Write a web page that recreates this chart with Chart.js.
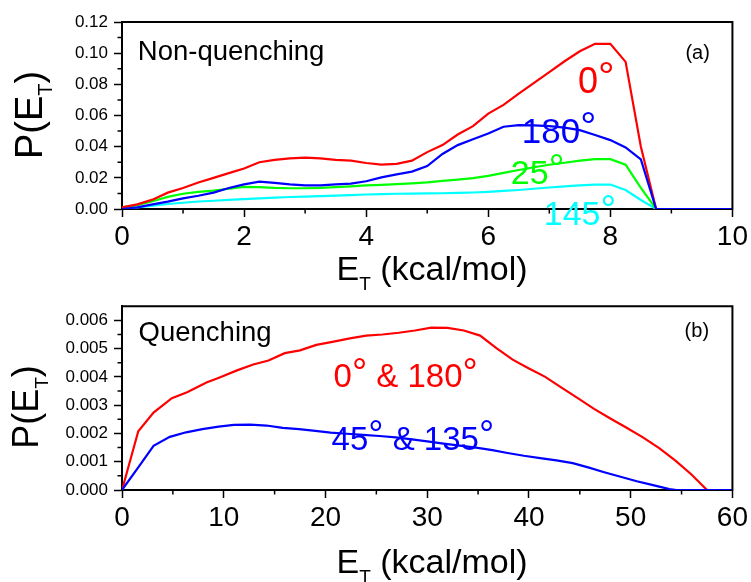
<!DOCTYPE html>
<html><head><meta charset="utf-8">
<script src="https://cdn.jsdelivr.net/npm/chart.js@4.4.1/dist/chart.umd.min.js"></script>
<style>
html,body{margin:0;padding:0;background:#fff;}
#wrap{position:relative;width:751px;height:582px;overflow:hidden;background:#fff;}
canvas{position:absolute;left:0;}
#ca{top:0;}
#cb{top:290px;}
</style></head><body>
<div id="wrap">
<canvas id="ca" width="751" height="300"></canvas>
<canvas id="cb" width="751" height="292"></canvas>
</div>
<script>
const FAM = '"Liberation Sans", Arial, Helvetica, sans-serif';

// ---------- Panel (a): Non-quenching ----------
const energyA = [0,0.25,0.5,0.75,1,1.25,1.5,1.75,2,2.25,2.5,2.75,3,3.25,3.5,3.75,4,4.25,4.5,4.75,5,5.25,5.5,5.75,6,6.25,6.5,6.75,7,7.25,7.5,7.75,8,8.25,8.5,8.75,10];
const p0deg   = [0.001,0.003,0.006,0.0105,0.0135,0.017,0.020,0.023,0.026,0.030,0.0315,0.0325,0.033,0.0325,0.0315,0.031,0.0295,0.0285,0.029,0.031,0.0365,0.041,0.0478,0.0532,0.0612,0.0668,0.074,0.081,0.0878,0.0948,0.1012,0.106,0.106,0.0944,0.040,0,0];
const p180deg = [0,0.001,0.003,0.0047,0.0068,0.0085,0.0105,0.0135,0.0158,0.0175,0.0168,0.0158,0.0152,0.0152,0.0158,0.0163,0.0178,0.0203,0.0222,0.024,0.0276,0.0353,0.041,0.0447,0.0485,0.0528,0.0538,0.0537,0.0532,0.0522,0.0506,0.0475,0.0442,0.0395,0.0318,0,0];
const p25deg  = [0.001,0.0025,0.005,0.0078,0.0098,0.011,0.0118,0.013,0.0142,0.014,0.0135,0.0133,0.0133,0.0135,0.014,0.0145,0.0152,0.0155,0.016,0.0165,0.0171,0.018,0.0188,0.0198,0.0213,0.0232,0.025,0.0268,0.0284,0.0297,0.031,0.032,0.032,0.0284,0.0135,0,0];
const p145deg = [0,0.001,0.0022,0.0032,0.004,0.0048,0.0053,0.0058,0.0063,0.0068,0.0073,0.0077,0.008,0.0083,0.0086,0.0089,0.0093,0.0096,0.0098,0.0099,0.0100,0.0101,0.0103,0.0106,0.011,0.0116,0.0122,0.013,0.0138,0.0145,0.0152,0.0157,0.0157,0.0122,0.0058,0,0];
const xTicksA = [0,2,4,6,8,10];
const xMinorA = [1,3,5,7,9];
const yTicksA = [0,0.02,0.04,0.06,0.08,0.10,0.12];
const yMinorA = [0.01,0.03,0.05,0.07,0.09,0.11];

// ---------- Panel (b): Quenching ----------
const energyRedB = [0,1.6,3.1,4.9,6.4,8.3,9.6,11.3,12.9,14.4,16.0,17.5,19.1,20.8,22.4,24.0,25.6,27.2,28.8,30.4,32.0,33.6,35.2,36.8,38.4,40.0,41.6,43.2,44.8,46.4,48.0,49.6,51.2,52.8,54.4,56.0,57.5,60];
const pRedB = [0,0.00208,0.00274,0.00325,0.00346,0.0038,0.00398,0.00423,0.00444,0.00458,0.00484,0.00494,0.00513,0.00525,0.00536,0.00546,0.0055,0.00556,0.00564,0.00574,0.00573,0.00564,0.00546,0.00502,0.00461,0.0043,0.004,0.00362,0.00325,0.00287,0.00253,0.0022,0.00186,0.00148,0.00104,0.00054,0,0];
const energyBlueB = [0,1.6,3.1,4.7,6.3,7.9,9.5,11.0,12.6,14.2,15.8,17.4,19.0,20.5,22.1,23.7,25.3,26.9,28.5,30.0,31.6,33.2,34.8,36.4,37.9,39.5,41.1,42.7,44.3,45.9,47.4,49.0,50.6,52.2,53.8,54.5,60];
const pBlueB = [0,0.0008,0.00156,0.00188,0.00204,0.00215,0.00224,0.0023,0.00231,0.00228,0.0022,0.00215,0.00209,0.00203,0.00199,0.00195,0.00191,0.00186,0.00179,0.00172,0.00164,0.00157,0.0015,0.00141,0.00131,0.00121,0.00113,0.00105,0.00095,0.00079,0.00063,0.00047,0.00031,0.00017,0.00003,0,0];
const xTicksB = [0,10,20,30,40,50,60];
const xMinorB = [5,15,25,35,45,55];
const yTicksB = [0,0.001,0.002,0.003,0.004,0.005,0.006];
const yMinorB = [0.0005,0.0015,0.0025,0.0035,0.0045,0.0055];

const RED = '#ff0000', BLUE = '#0000ff', GREEN = '#00ff00', CYAN = '#00ffff';

function pts(xs, ys){ return xs.map((x,i)=>({x:x, y:ys[i]})); }

function drawRuns(ctx, x, y, runs, color, align){
  let w = 0;
  const parts = runs.map(r => {
    ctx.font = r[1] + 'px ' + FAM;
    const mw = ctx.measureText(r[0]).width;
    w += mw;
    return {t:r[0], s:r[1], dy:r[2]||0, w:mw};
  });
  let cx = align === 'center' ? x - w/2 : x;
  ctx.fillStyle = color;
  ctx.textAlign = 'left';
  ctx.textBaseline = 'alphabetic';
  parts.forEach(p => { ctx.font = p.s + 'px ' + FAM; ctx.fillText(p.t, cx, y + p.dy); cx += p.w; });
}

const decor = {
  id: 'decor',
  afterDraw(chart, args, o){
    const ctx = chart.ctx, a = chart.chartArea, xs = chart.scales.x, ys = chart.scales.y;
    ctx.save();
    ctx.strokeStyle = '#000';
    ctx.lineWidth = 2;
    ctx.beginPath();
    ctx.moveTo(a.left, a.top); ctx.lineTo(a.right, a.top); ctx.lineTo(a.right, a.bottom + 1);
    ctx.stroke();
    ctx.lineWidth = 1.5;
    ctx.beginPath();
    o.xMinor.forEach(v => { const p = xs.getPixelForValue(v); ctx.moveTo(p, a.bottom); ctx.lineTo(p, a.bottom + 4.5); });
    o.yMinor.forEach(v => { const p = ys.getPixelForValue(v); ctx.moveTo(a.left, p); ctx.lineTo(a.left - 4.5, p); });
    ctx.stroke();
    o.texts.forEach(t => {
      let px, py;
      if (t.dx !== undefined) { px = xs.getPixelForValue(t.dx); py = ys.getPixelForValue(t.dy); }
      else { px = t.px; py = t.py; }
      if (t.rot) {
        ctx.save(); ctx.translate(px, py); ctx.rotate(-Math.PI/2);
        drawRuns(ctx, 0, 0, t.runs, t.color, t.align); ctx.restore();
      } else drawRuns(ctx, px, py, t.runs, t.color, t.align);
    });
    ctx.restore();
  }
};

function deg(s, size){ return [[s, size], ['\u00B0', size*1.15, -size*0.08]]; }

function makeChart(id, datasets, xr, yr, xTicks, yTicks, xMinor, yMinor, yFmt, padTop, axisH, texts){
  return new Chart(document.getElementById(id), {
    type: 'line',
    data: { datasets: datasets },
    options: {
      responsive: false, animation: false, devicePixelRatio: 1,
      layout: { padding: { top: padTop, right: 18, left: 0, bottom: 0 } },
      plugins: { legend: {display:false}, tooltip: {enabled:false}, decor: { xMinor: xMinor, yMinor: yMinor, texts: texts } },
      elements: { point: { radius: 0 }, line: { borderWidth: 2.2, tension: 0 } },
      scales: {
        x: {
          type: 'linear', min: xr[0], max: xr[1], position: 'bottom',
          afterBuildTicks: s => { s.ticks = xTicks.map(v => ({value: v})); },
          afterFit: s => { s.height = axisH; },
          ticks: { color: '#000', font: { family: FAM, size: 28 }, padding: 3, maxRotation: 0, autoSkip: false, callback: v => String(v) },
          grid: { display: true, drawOnChartArea: false, drawTicks: true, tickLength: 8, tickWidth: 1.5, tickColor: '#000' },
          border: { display: true, color: '#000', width: 2 }
        },
        y: {
          type: 'linear', min: yr[0], max: yr[1], position: 'left',
          afterBuildTicks: s => { s.ticks = yTicks.map(v => ({value: v})); },
          afterFit: s => { s.width = 122; },
          ticks: { color: '#000', font: { family: FAM, size: 17 }, padding: 6, autoSkip: false, callback: yFmt },
          grid: { display: true, drawOnChartArea: false, drawTicks: true, tickLength: 8, tickWidth: 1.5, tickColor: '#000' },
          border: { display: true, color: '#000', width: 2 }
        }
      }
    },
    plugins: [decor]
  });
}

// Panel (a)
makeChart('ca', [
  { data: pts(energyA, p180deg), borderColor: BLUE, order: 0 },
  { data: pts(energyA, p0deg), borderColor: RED, order: 1 },
  { data: pts(energyA, p25deg), borderColor: GREEN, order: 2 },
  { data: pts(energyA, p145deg), borderColor: CYAN, order: 3 }
], [0,10], [0,0.12], xTicksA, yTicksA, xMinorA, yMinorA, v => v.toFixed(2), 22, 91, [
  { dx: 0.26, dy: 0.0955, runs: [['Non-quenching', 27.5]], color: '#000' },
  { dx: 9.23, dy: 0.0965, runs: [['(a)', 20]], color: '#000' },
  { dx: 7.47, dy: 0.0744, runs: deg('0', 36), color: RED },
  { dx: 6.55, dy: 0.0423, runs: deg('180', 35), color: BLUE },
  { dx: 6.37, dy: 0.0160, runs: deg('25', 34), color: GREEN },
  { dx: 6.91, dy: -0.0103, runs: deg('145', 34), color: CYAN },
  { px: 432, py: 280, align: 'center', runs: [['E', 34], ['T', 19, 10], [' (kcal/mol)', 34]], color: '#000' },
  { px: 42, py: 115, rot: true, align: 'center', runs: [['P(E', 38], ['T', 20, 10], [')', 38]], color: '#000' }
]);

// Panel (b)
makeChart('cb', [
  { data: pts(energyBlueB, pBlueB), borderColor: BLUE, order: 0 },
  { data: pts(energyRedB, pRedB), borderColor: RED, order: 1 }
], [0,60], [0,0.0065], xTicksB, yTicksB, xMinorB, yMinorB, v => v.toFixed(3), 13, 92, [
  { dx: 1.63, dy: 0.00526, runs: [['Quenching', 27.5]], color: '#000' },
  { dx: 55.3, dy: 0.0054, runs: [['(b)', 20]], color: '#000' },
  { dx: 20.8, dy: 0.00363, runs: [['0', 33], ['\u00B0', 38, -2.6], [' & 180', 33], ['\u00B0', 38, -2.6]], color: RED },
  { dx: 20.6, dy: 0.00142, runs: [['45', 33], ['\u00B0', 38, -2.6], [' & 135', 33], ['\u00B0', 38, -2.6]], color: BLUE },
  { px: 432, py: 283, align: 'center', runs: [['E', 34], ['T', 19, 10], [' (kcal/mol)', 34]], color: '#000' },
  { px: 38, py: 117, rot: true, align: 'center', runs: [['P(E', 36], ['T', 19, 10], [')', 36]], color: '#000' }
]);
</script>
</body></html>
